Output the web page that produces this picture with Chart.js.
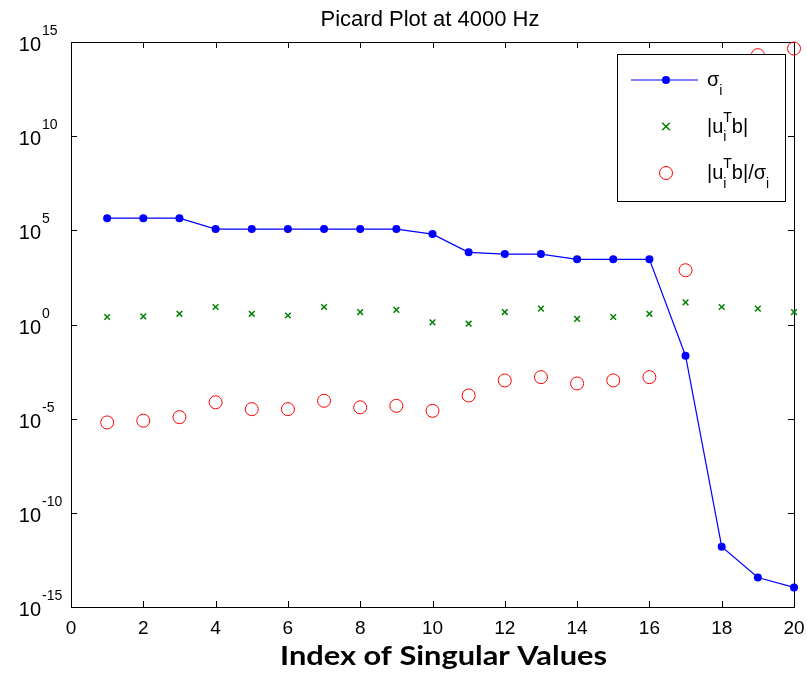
<!DOCTYPE html>
<html>
<head>
<meta charset="utf-8">
<script src="https://cdn.jsdelivr.net/npm/chart.js@4.4.1/dist/chart.umd.min.js"></script>
<style>
html,body{margin:0;padding:0;background:#fff;}
#wrap{width:807px;height:673px;}
</style>
</head>
<body>
<div id="wrap"><canvas id="c" width="807" height="673"></canvas></div>
<script>
// ---- data ----
const indices = [1,2,3,4,5,6,7,8,9,10,11,12,13,14,15,16,17,18,19,20];
const sigmaValues = [4.4e5,4.4e5,4.4e5,1.17e5,1.17e5,1.17e5,1.17e5,1.17e5,1.17e5,6.3e4,6.8e3,5.5e3,5.5e3,2.9e3,2.9e3,2.9e3,2.2e-2,1.6e-12,3.7e-14,1.1e-14];
const utbValues = [2.5,2.7,3.7,8.5,3.7,3.0,8.5,4.6,6.0,1.3,1.1,4.6,7.0,2.0,2.5,3.7,15,8.5,7.0,4.6];
const ratioValues = [6.3e-6,7.8e-6,1.2e-5,7.4e-5,3.2e-5,3.2e-5,8.9e-5,4e-5,4.8e-5,2.6e-5,1.7e-4,1.07e-3,1.6e-3,7.4e-4,1.07e-3,1.6e-3,7.6e2,5e12,2e14,4.5e14];
const xTickValues = [0,2,4,6,8,10,12,14,16,18,20];
const yTickExponents = [15,10,5,0,-5,-10,-15];
const titleText = "Picard Plot at 4000 Hz";
const xTitleText = "Index of Singular Values";

const toPoints = vals => indices.map((x,i)=>({x:x,y:vals[i]}));
const FONT = '"Liberation Sans", Arial, sans-serif';

const decorPlugin = {
  id:'decor',
  beforeDatasetsDraw(chart){
    const ctx = chart.ctx, a = chart.chartArea, xs = chart.scales.x, ys = chart.scales.y;
    ctx.save();
    ctx.strokeStyle = '#000'; ctx.lineWidth = 1;
    ctx.strokeRect(Math.round(a.left)+0.5, Math.round(a.top)+0.5, Math.round(a.right-a.left), Math.round(a.bottom-a.top));
    const tl = 6;
    ctx.beginPath();
    xTickValues.forEach(v=>{
      const px = Math.round(xs.getPixelForValue(v))+0.5;
      ctx.moveTo(px,a.bottom); ctx.lineTo(px,a.bottom-tl);
      ctx.moveTo(px,a.top); ctx.lineTo(px,a.top+tl);
    });
    yTickExponents.forEach(e=>{
      const py = Math.round(ys.getPixelForValue(Math.pow(10,e)))+0.5;
      ctx.moveTo(a.left,py); ctx.lineTo(a.left+tl,py);
      ctx.moveTo(a.right,py); ctx.lineTo(a.right-tl,py);
    });
    ctx.stroke();
    ctx.restore();
  },
  afterDraw(chart){
    const ctx = chart.ctx, a = chart.chartArea, xs = chart.scales.x, ys = chart.scales.y;
    ctx.save();
    ctx.fillStyle = '#000';
    // title
    ctx.font = '22px ' + FONT;
    ctx.textAlign = 'center'; ctx.textBaseline = 'alphabetic';
    ctx.fillText(titleText, 430, 26);
    // x tick labels
    ctx.font = '19px ' + FONT;
    xTickValues.forEach(v=>{
      ctx.fillText(String(v), xs.getPixelForValue(v), 634);
    });
    // y tick labels 10^e
    yTickExponents.forEach(e=>{
      const py = ys.getPixelForValue(Math.pow(10,e));
      ctx.font = '20px ' + FONT; ctx.textAlign = 'right';
      ctx.fillText('10', 41, py+9);
      ctx.font = '14px ' + FONT; ctx.textAlign = 'left';
      ctx.fillText(String(e), 42, py-7);
    });
    // x axis title
    ctx.font = 'bold 27px Lato, "Open Sans", sans-serif';
    ctx.textAlign = 'left';
    const w = ctx.measureText(xTitleText).width;
    const target = 327;
    ctx.save();
    ctx.translate(280, 665);
    ctx.scale(target/w, 1);
    ctx.fillText(xTitleText, 0, 0);
    ctx.restore();

    // legend
    const L = 617, T = 54, R = 785, B = 201;
    ctx.fillStyle = '#fff';
    ctx.fillRect(L, T, R-L, B-T);
    ctx.strokeStyle = '#000'; ctx.lineWidth = 1;
    ctx.strokeRect(L+0.5, T+0.5, R-L, B-T);
    const mx = 666, tx = 707;
    const rows = [80, 126.5, 173];
    ctx.strokeStyle = '#0000ff'; ctx.lineWidth = 1.2;
    ctx.beginPath(); ctx.moveTo(631, rows[0]); ctx.lineTo(698, rows[0]); ctx.stroke();
    ctx.fillStyle = '#0000ff';
    ctx.beginPath(); ctx.arc(mx, rows[0], 4, 0, Math.PI*2); ctx.fill();
    ctx.strokeStyle = '#008000'; ctx.lineWidth = 1.5;
    const r2 = 3.8;
    ctx.beginPath();
    ctx.moveTo(mx-r2, rows[1]-r2); ctx.lineTo(mx+r2, rows[1]+r2);
    ctx.moveTo(mx+r2, rows[1]-r2); ctx.lineTo(mx-r2, rows[1]+r2);
    ctx.stroke();
    ctx.strokeStyle = '#ff0000'; ctx.lineWidth = 1;
    ctx.beginPath(); ctx.arc(mx, rows[2], 6.5, 0, Math.PI*2); ctx.stroke();

    ctx.fillStyle = '#000'; ctx.textAlign = 'left';
    const big = '20px ' + FONT, small = '14px ' + FONT;
    function rich(x, base, parts){
      parts.forEach(p=>{
        if (p.t !== undefined){
          ctx.font = big; ctx.fillText(p.t, x, base); x += ctx.measureText(p.t).width;
        } else {
          let adv = 0;
          ctx.font = small;
          if (p.sub){ ctx.fillText(p.sub, x, base+8.5); adv = Math.max(adv, ctx.measureText(p.sub).width); }
          if (p.sup){ ctx.fillText(p.sup, x, base-11); adv = Math.max(adv, ctx.measureText(p.sup).width); }
          x += adv;
        }
      });
    }
    rich(tx, rows[0]+6, [{t:'σ'},{sub:'i'}]);
    rich(tx, rows[1]+6, [{t:'|u'},{sub:'i',sup:'T'},{t:'b|'}]);
    rich(tx, rows[2]+6, [{t:'|u'},{sub:'i',sup:'T'},{t:'b|/σ'},{sub:'i'}]);
    ctx.restore();
  }
};

new Chart(document.getElementById('c'), {
  type:'line',
  data:{
    datasets:[
      {label:'σi', data:toPoints(sigmaValues), showLine:true, borderColor:'#0000ff', backgroundColor:'#0000ff',
       borderWidth:1.2, pointRadius:4, pointStyle:'circle', pointBorderWidth:0, clip:false, order:1},
      {label:'|ui^T b|', data:toPoints(utbValues), showLine:false, borderColor:'#008000', backgroundColor:'#008000',
       pointStyle:'crossRot', pointRadius:4, pointBorderWidth:1.5, clip:false, order:2},
      {label:'|ui^T b|/σi', data:toPoints(ratioValues), showLine:false, borderColor:'#ff0000', backgroundColor:'rgba(0,0,0,0)',
       pointStyle:'circle', pointRadius:6.5, pointBorderWidth:1, clip:false, order:3}
    ]
  },
  options:{
    responsive:false, animation:false, events:[],
    layout:{padding:{top:42, right:13, left:0, bottom:0}},
    plugins:{legend:{display:false}, title:{display:false}, tooltip:{enabled:false}},
    scales:{
      x:{type:'linear', min:0, max:20, grid:{display:false}, border:{display:false}, ticks:{display:false},
         afterFit(s){ s.height = 66; }},
      y:{type:'logarithmic', min:1e-15, max:1e15, grid:{display:false}, border:{display:false}, ticks:{display:false},
         afterFit(s){ s.width = 71; }}
    }
  },
  plugins:[decorPlugin]
});
</script>
</body>
</html>
